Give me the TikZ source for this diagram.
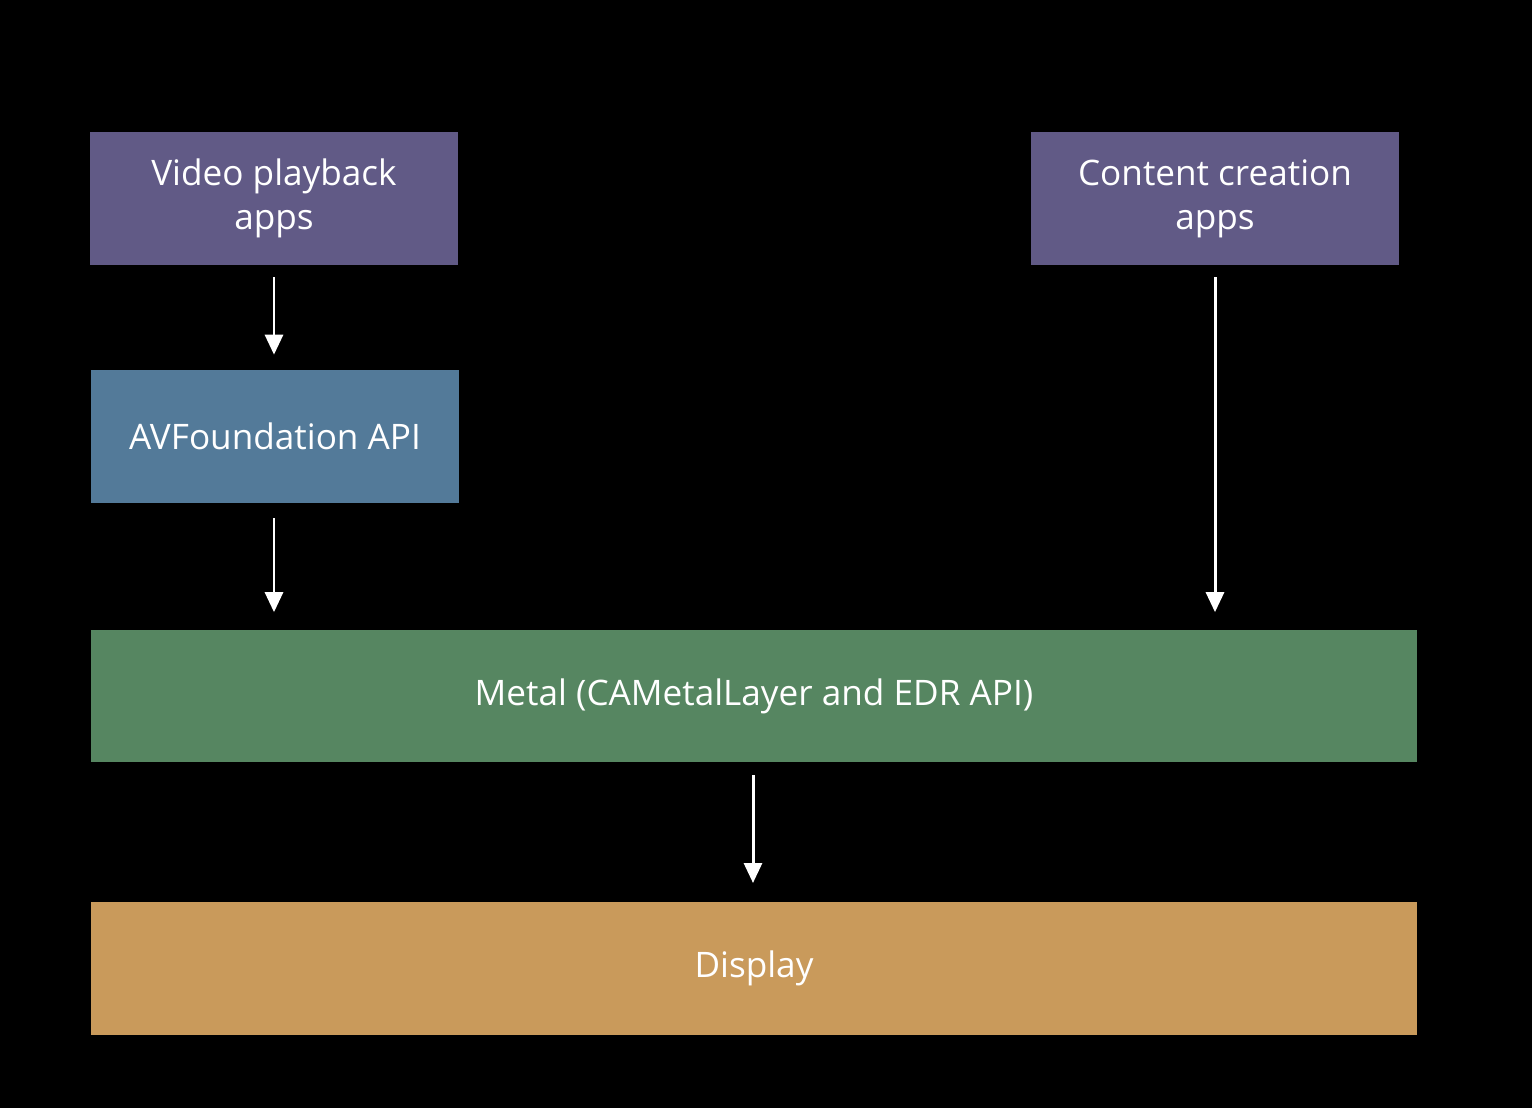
\documentclass[tikz,border=0pt]{standalone}
\usepackage{fontspec}
\setmainfont{Open Sans}
\usetikzlibrary{arrows.meta,positioning}
\definecolor{appviolet}{HTML}{615A86}
\definecolor{avblue}{HTML}{537A99}
\definecolor{metalgreen}{HTML}{568661}
\definecolor{displaytan}{HTML}{C99A5B}
\tikzset{
  box/.style={draw=none, text=white, align=center, inner sep=0pt,
              font=\fontsize{20}{25}\selectfont, minimum height=2.66cm},
  smallbox/.style={box, minimum width=7.36cm},
  widebox/.style={box, minimum width=26.52cm},
  flow/.style={draw=white, line width=1.7pt, -{Triangle[length=0.4cm,width=0.36cm]}}
}
\begin{document}
\begin{tikzpicture}[x=0.02cm,y=-0.02cm]
  \fill[black] (0,0) rectangle (1532,1108);
  \useasboundingbox (0,0) rectangle (1532,1108);

  \node [smallbox, fill=appviolet] (video) at (274,198.5) {Video playback\\apps};
  \node [smallbox, fill=appviolet] (content) at (1215,198.5) {Content creation\\apps};
  \node [smallbox, fill=avblue] (av) at (275,436.5) {AVFoundation API};
  \node [widebox, fill=metalgreen] (metal) at (754,696) {Metal (CAMetalLayer and EDR API)};
  \node [widebox, fill=displaytan] (display) at (754,968.5) {Display};

  \draw [flow, shorten <=0.24cm, shorten >=0.3cm] (video.south) -- (video.south |- av.north);
  \draw [flow, shorten <=0.3cm, shorten >=0.34cm] (video.south |- av.south) -- (video.south |- metal.north);
  \draw [flow, shorten <=0.24cm, shorten >=0.34cm] (content.south) -- (content.south |- metal.north);
  \draw [flow, shorten <=0.24cm, shorten >=0.38cm] (753,763) -- (753,902) coordinate (disptop);
\end{tikzpicture}
\end{document}
